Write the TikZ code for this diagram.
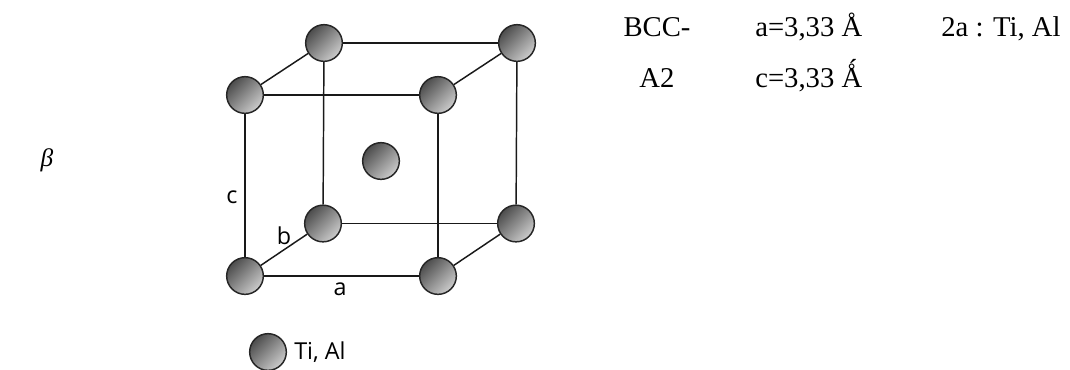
\documentclass[tikz,border=0pt]{standalone}
\usepackage{fontspec}
\setmainfont{Liberation Serif}
\newfontfamily\labelfont{Open Sans}
\usetikzlibrary{calc}
\tikzset{
  atom/.style={circle,draw=black!85,line width=1.1pt,minimum size=27.5pt,inner sep=0pt,
    top color=black!70,bottom color=black!20,shading angle=45},
  bond/.style={black!90,line width=1.1pt},
  cell/.style={font=\labelfont\fontsize{17.5pt}{20pt}\selectfont,inner sep=0pt},
  info/.style={font=\fontsize{21.5pt}{25pt}\selectfont,inner sep=0pt},
}
\begin{document}
\begin{tikzpicture}[x=0.75pt,y=-0.75pt]
\useasboundingbox (0,0) rectangle (1070,369);
\node[atom] (btl) at (324,43) {};
\node[atom] (btr) at (517,43) {};
\node[atom] (ftl) at (245,95) {};
\node[atom] (ftr) at (438,95) {};
\node[atom] (mid) at (381,161) {};
\node[atom] (bbl) at (323,223.5) {};
\node[atom] (bbr) at (516,223.5) {};
\node[atom] (fbl) at (245,276) {};
\node[atom] (fbr) at (438,276) {};
\node[atom] (key) at (268,352) {};
% cell edges
\draw[bond] (btl) -- (btr);
\draw[bond] (ftl) -- (ftr);
\draw[bond] (bbl) -- (bbr);
\draw[bond] (fbl) -- (fbr);
\draw[bond] (btl) -- (ftl);
\draw[bond] (btr) -- (ftr);
\draw[bond] (bbl) -- (fbl);
\draw[bond] (bbr) -- (fbr);
\draw[bond] (ftl) -- (fbl);
\draw[bond] (ftr) -- (fbr);
\draw[bond] (btl) -- (bbl);
\draw[bond] (btr) -- (bbr);
% labels
\node[cell] (la) at (340,289) {a};
\node[cell] (lb) at (284,236) {b};
\node[cell] (lc) at (232,197) {c};
\node[cell,anchor=west] (lkey) at (294,352) {Ti, Al};
\node[info] (phase) at (47,160) {\fontsize{19pt}{22pt}\selectfont\itshape β};
\node[info,anchor=base] (bcc) at (657,36) {BCC-};
\node[info,anchor=base] (atwo) at (657,87) {A2};
\node[info,anchor=base west] (lata) at (755,36) {a=3,33 Å};
\node[info,anchor=base west] (latc) at (755,87) {c=3,33 Ǻ};
\node[info,anchor=base west] (site) at (941,36) {2a : Ti, Al};
\end{tikzpicture}
\end{document}
